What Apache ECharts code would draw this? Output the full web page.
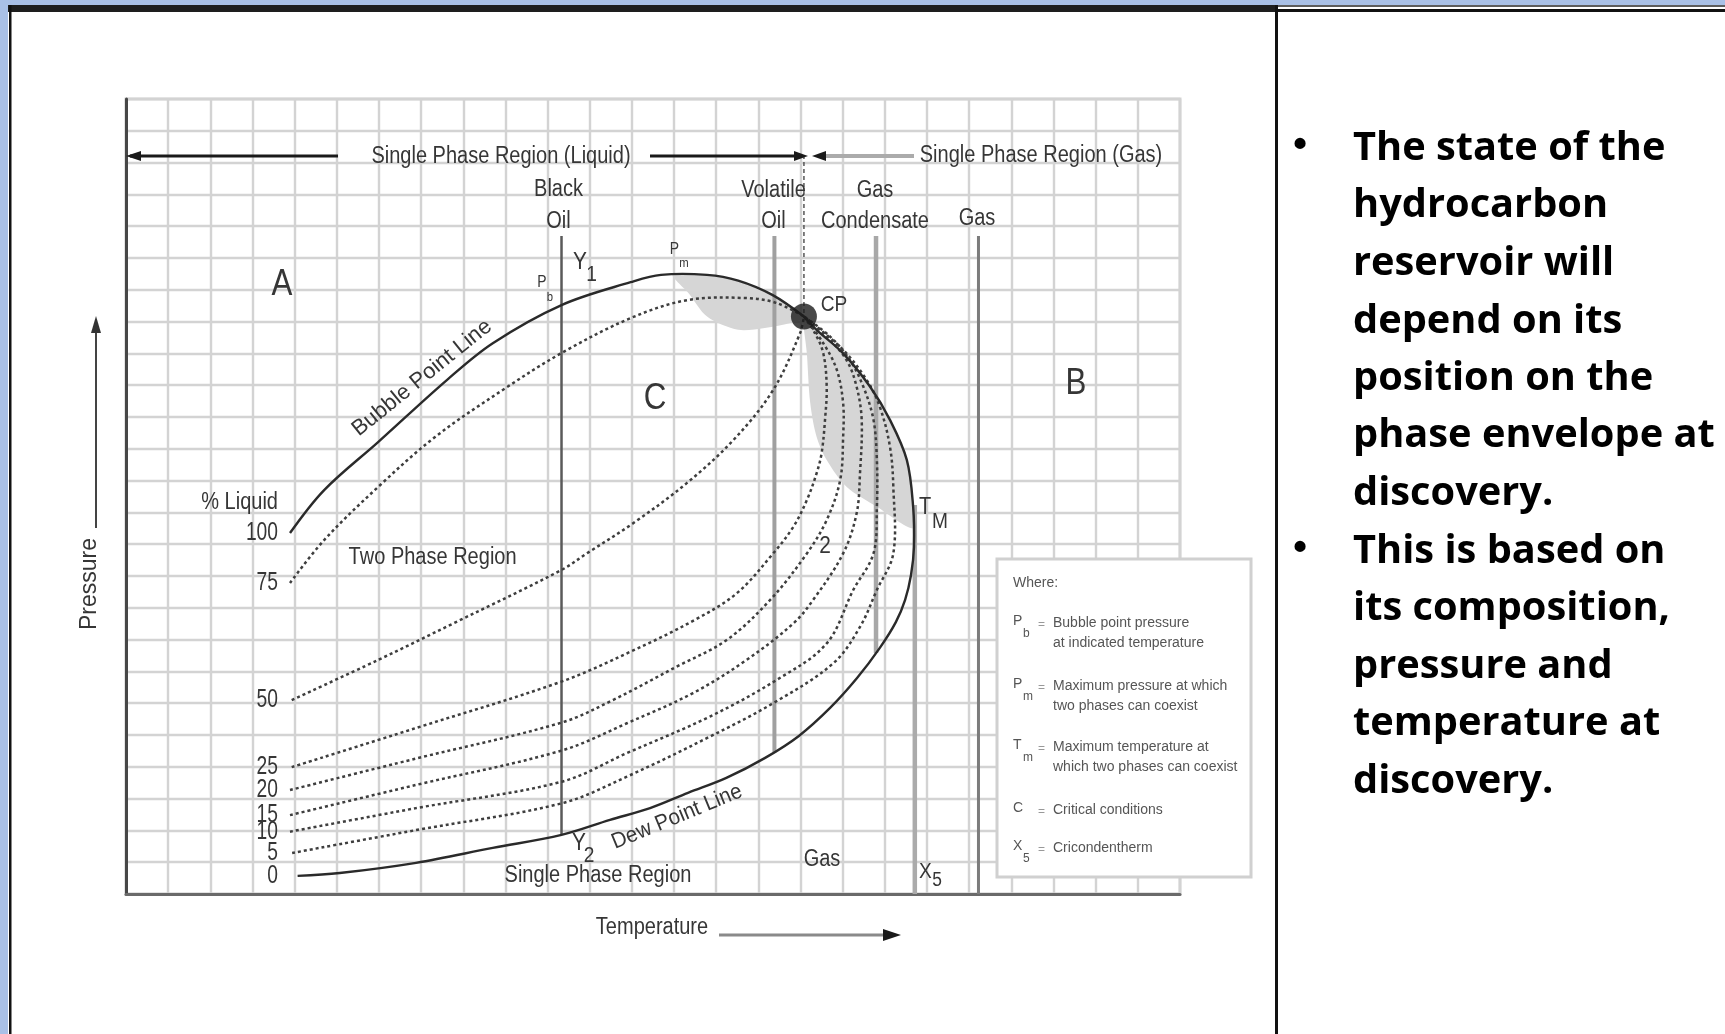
<!DOCTYPE html>
<html>
<head>
<meta charset="utf-8">
<title>Phase envelope</title>
<script src="https://cdn.jsdelivr.net/npm/echarts@6/dist/echarts.min.js"></script>
<style>
  html, body { margin: 0; padding: 0; background: #fff; }
  #main { width: 1725px; height: 1034px; }
</style>
</head>
<body>
<div id="main"></div>
<script>
// grid is 25 x 25 squares, 10 units each (temperature across, pressure up)
const bubbleT = [38.9, 47.0, 59.8, 76.1, 87.0, 103.3, 119.7, 126.9, 137.8, 145.2, 153.3, 160.8];
const bubbleP = [113.5, 127.0, 142.1, 161.6, 173.2, 185.2, 192.4, 194.7, 194.7, 192.9, 188.4, 181.6];

const dewT = [160.8, 163.8, 170.1, 176.5, 181.2, 185.2, 186.7, 186.9, 186.2, 184.8, 182.6, 178.8, 173.4, 167.0, 159.6, 151.6, 142.4, 133.3, 124.3, 114.8, 103.3, 87.0, 68.8, 50.7, 40.7];
const dewP = [181.6, 177.4, 170.0, 159.5, 149.1, 136.5, 121.8, 109.1, 100.3, 92.5, 85.5, 77.4, 67.9, 58.5, 49.7, 42.8, 36.5, 31.8, 27.0, 23.3, 18.6, 14.5, 9.8, 6.6, 5.7];

// % liquid quality lines
const q75T = [38.9, 47.0, 59.8, 73.3, 89.7, 103.3, 119.7, 133.3, 147.0, 154.2, 160.8];
const q75P = [97.8, 111.3, 128.0, 143.7, 158.8, 170.1, 181.1, 186.8, 187.4, 185.9, 181.6];

const q50T = [39.3, 59.8, 77.8, 103.3, 109.3, 120.3, 133.0, 144.1, 153.5, 159.9, 160.8];
const q50P = [61.0, 73.6, 85.2, 101.9, 107.1, 116.6, 129.2, 142.8, 158.5, 176.4, 181.6];

const q25T = [39.3, 68.8, 103.3, 119.5, 134.5, 144.9, 153.5, 158.3, 161.5, 163.8, 165.0, 165.8, 166.2, 165.4, 163.4, 160.8];
const q25P = [39.9, 52.2, 66.8, 76.1, 85.9, 94.6, 107.1, 115.5, 123.9, 132.3, 138.7, 149.1, 159.5, 170.0, 176.4, 181.6];

const q20T = [38.9, 68.8, 103.3, 115.5, 130.6, 142.5, 152.8, 161.5, 166.2, 169.4, 170.1, 170.1, 168.6, 165.4, 160.8];
const q20P = [32.7, 42.6, 53.9, 61.0, 71.5, 79.9, 92.5, 107.1, 117.6, 130.2, 143.8, 154.3, 164.8, 173.2, 181.6];

const q15T = [38.9, 68.8, 103.3, 118.8, 134.5, 147.2, 158.3, 163.0, 170.1, 173.3, 174.1, 174.5, 173.3, 170.9, 166.2, 160.8];
const q15P = [24.8, 34.3, 45.1, 53.7, 63.2, 73.6, 85.1, 92.5, 107.1, 119.7, 132.3, 149.1, 159.5, 167.9, 175.3, 181.6];

const q10T = [38.9, 68.8, 103.3, 118.8, 138.5, 154.3, 166.2, 172.5, 177.3, 178.1, 178.1, 177.3, 174.9, 171.7, 167.0, 160.8];
const q10P = [19.6, 27.0, 35.3, 44.3, 55.8, 67.3, 78.8, 95.6, 107.1, 121.8, 136.5, 149.1, 159.5, 167.9, 175.3, 181.6];

const q5T = [39.4, 68.8, 103.3, 118.8, 138.5, 153.5, 167.8, 174.1, 178.1, 182.0, 182.0, 181.2, 178.8, 175.7, 170.1, 160.8];
const q5P = [12.9, 20.1, 28.5, 36.9, 49.5, 60.0, 72.6, 84.0, 95.6, 107.1, 128.1, 140.7, 153.2, 161.6, 171.1, 181.6];

const liquidTicks = ['100', '75', '50', '25', '20', '15', '10', '5', '0'];

// shaded lobes near Pm and along the dew line below CP
const lobeTopT = [129.7, 137.8, 145.2, 153.3, 160.8, 157.9, 151.5, 145.2, 137.9, 133.4];
const lobeTopP = [194.8, 194.7, 192.9, 188.4, 181.6, 179.6, 178.0, 177.4, 181.5, 189.0];
const lobeDewT = [160.8, 161.5, 162.3, 163.8, 166.2, 170.9, 178.1, 186.7, 186.7, 185.2, 181.2, 176.5, 170.1, 163.8];
const lobeDewP = [181.6, 170.0, 154.4, 143.8, 136.5, 128.1, 121.8, 115.0, 121.8, 136.5, 149.1, 159.5, 170.0, 177.4];

// reservoir type verticals: black oil, volatile oil, gas condensate, gas, cricondentherm
const wellT = [103.3, 153.8, 177.9, 202.2, 187.1];
const wellTop = [206.9, 206.9, 206.9, 206.9, 122.3];
const wellBottom = [18.6, 44.6, 75.8, 0, 0];

const cpT = 160.8, cpP = 181.6, cpLineTop = 232.4;

const legendRows = [
  ['P', 'b', 'Bubble point pressure', 'at indicated temperature'],
  ['P', 'm', 'Maximum pressure at which', 'two phases can coexist'],
  ['T', 'm', 'Maximum temperature at', 'which two phases can coexist'],
  ['C', '', 'Critical conditions', ''],
  ['X', '5', 'Cricondentherm', '']
];

const bullets = [
  ['The state of the', 'hydrocarbon', 'reservoir will', 'depend on its', 'position on the', 'phase envelope at', 'discovery.'],
  ['This is based on', 'its composition,', 'pressure and', 'temperature at', 'discovery.']
];

const solid = { color: '#2a2a2a', width: 2.4, dash: null };
const dotted = { color: '#3e3e3e', width: 2.5, dash: [3, 3] };

const series = [];

// smooth curve through the points, drawn on the cartesian scales
function curve(ts, ps, st, z) {
  return {
    type: 'custom', data: [[ts[0], ps[0]]], z: z, silent: true, animation: false,
    renderItem: function (params, api) {
      return {
        type: 'polyline',
        shape: { points: ts.map((t, i) => api.coord([t, ps[i]])), smooth: 0.35 },
        style: { stroke: st.color, lineWidth: st.width, lineDash: st.dash, fill: null }
      };
    }
  };
}
function lobe(ts, ps) {
  return {
    type: 'custom', data: [[ts[0], ps[0]]], z: 1, silent: true, animation: false,
    renderItem: function (params, api) {
      return {
        type: 'polygon',
        shape: { points: ts.map((t, i) => api.coord([t, ps[i]])), smooth: 0.3 },
        style: { fill: '#d6d6d6' }
      };
    }
  };
}
series.push(lobe(lobeTopT, lobeTopP));
series.push(lobe(lobeDewT, lobeDewP));

const wellStyles = [
  { color: '#5a5a5a', width: 2.5 },
  { color: '#a0a0a0', width: 4 },
  { color: '#a8a8a8', width: 4.5 },
  { color: '#7c7c7c', width: 3 },
  { color: '#ababab', width: 4.5 }
];
wellT.forEach((t, i) => {
  series.push({
    type: 'line', data: [[t, wellTop[i]], [t, wellBottom[i]]], showSymbol: false,
    lineStyle: wellStyles[i], z: 2, silent: true, animation: false
  });
});
series.push({
  type: 'line', data: [[cpT, cpLineTop], [cpT, cpP]], showSymbol: false,
  lineStyle: { color: '#555', width: 1.5, type: [4, 3] }, z: 2, silent: true, animation: false
});

[[q75T, q75P], [q50T, q50P], [q25T, q25P], [q20T, q20P], [q15T, q15P], [q10T, q10P], [q5T, q5P]]
  .forEach(([t, p]) => series.push(curve(t, p, dotted, 3)));
series.push(curve(bubbleT, bubbleP, solid, 4));
series.push(curve(dewT, dewP, solid, 4));
series.push({
  type: 'scatter', data: [[cpT, cpP]], symbolSize: 26,
  itemStyle: { color: '#1c1c1c' }, z: 6, silent: true, animation: false
});

const axisCommon = {
  type: 'value', min: 0, max: 250, interval: 10,
  axisLabel: { show: false }, axisTick: { show: false },
  splitLine: { show: true, lineStyle: { color: '#d3d3d3', width: 2.4 } }
};

const chart = echarts.init(document.getElementById('main'));
chart.setOption({
  backgroundColor: '#fff',
  animation: false,
  grid: { left: 126, top: 99, width: 1054, height: 795, show: true, borderColor: '#d3d3d3', borderWidth: 3 },
  xAxis: Object.assign({}, axisCommon, { axisLine: { show: true, lineStyle: { color: '#6a6a6a', width: 3 } } }),
  yAxis: Object.assign({}, axisCommon, { axisLine: { show: true, lineStyle: { color: '#474747', width: 3 } } }),
  series: series
});

function txt(s, x, y, o) {
  o = o || {};
  const align = o.align || 'center';
  return {
    type: 'text', x: x, y: y, z: 60,
    scaleX: o.sx == null ? 0.87 : o.sx, rotation: o.rot || 0,
    style: {
      text: s, fontSize: o.size || 23, fontFamily: o.family || 'Liberation Sans',
      fontWeight: o.weight || 'normal', fill: o.color || '#363636',
      align: align, textAlign: align, verticalAlign: 'middle', textVerticalAlign: 'middle'
    }
  };
}
function rect(x, y, w, h, fill, z) {
  return { type: 'rect', shape: { x: x, y: y, width: w, height: h }, style: { fill: fill }, z: z || 70 };
}
function seg(x1, y1, x2, y2, stroke, w) {
  return { type: 'line', shape: { x1: x1, y1: y1, x2: x2, y2: y2 }, style: { stroke: stroke, lineWidth: w }, z: 60 };
}
function tri(pts, fill) {
  return { type: 'polygon', shape: { points: pts }, style: { fill: fill }, z: 60 };
}

const g = [];
// slide frame
g.push(rect(0, 0, 1725, 5, '#a9c0e6'));
g.push(rect(0, 0, 8, 1034, '#a9c0e6'));
g.push(rect(8, 5, 1268, 7, '#1e1e1e'));
g.push(rect(1276, 5, 449, 2, '#5c5c5c'));
g.push(rect(1276, 9, 449, 3, '#111'));
g.push(rect(9, 5, 2.5, 1029, '#111'));
g.push(rect(1275, 5, 3, 1029, '#111'));

// region arrows along the top
g.push(seg(130, 156, 338, 156, '#1a1a1a', 3));
g.push(tri([[126, 156], [141, 151], [141, 161]], '#1a1a1a'));
g.push(seg(650, 156, 796, 156, '#1a1a1a', 3));
g.push(tri([[808, 156], [794, 151], [794, 161]], '#1a1a1a'));
g.push(tri([[812, 156], [826, 151], [826, 161]], '#1a1a1a'));
g.push(seg(826, 156, 914, 156, '#ababab', 4));

// axis arrows and titles
g.push(seg(719, 935, 888, 935, '#8a8a8a', 3));
g.push(tri([[901, 935], [883, 929], [883, 941]], '#1a1a1a'));
g.push(seg(96, 528, 96, 330, '#444', 2));
g.push(tri([[96, 316], [91, 333], [101, 333]], '#333'));
g.push(txt('Temperature', 652, 928));
g.push(txt('Pressure', 90, 584, { rot: Math.PI / 2, sx: 1.0 }));

// chart annotations
g.push(txt('Single Phase Region (Liquid)', 501, 157));
g.push(txt('Single Phase Region (Gas)', 1041, 156));
g.push(txt('Black', 558.5, 190), txt('Oil', 558.5, 222));
g.push(txt('Volatile', 773.5, 191), txt('Oil', 773.5, 222));
g.push(txt('Gas', 875, 191), txt('Condensate', 875, 222));
g.push(txt('Gas', 977, 219));
g.push(txt('A', 282, 285, { size: 36 }), txt('B', 1076, 384, { size: 36 }), txt('C', 655, 399, { size: 36 }));
g.push(txt('P', 542, 283, { size: 16 }), txt('b', 550, 297, { size: 13 }));
g.push(txt('P', 674.5, 250, { size: 16 }), txt('m', 684, 263, { size: 13 }));
g.push(txt('Y', 580, 262, { size: 24 }), txt('1', 591.5, 275, { size: 22 }));
g.push(txt('CP', 834, 305, { size: 22 }));
g.push(txt('T', 925, 508, { size: 23 }), txt('M', 940, 522, { size: 22 }));
g.push(txt('2', 825, 546, { size: 24 }));
g.push(txt('Y', 579, 843, { size: 24 }), txt('2', 589, 856, { size: 22 }));
g.push(txt('Single Phase Region', 598, 876));
g.push(txt('Gas', 822, 860));
g.push(txt('X', 925.5, 872, { size: 22 }), txt('5', 937, 880, { size: 20 }));
g.push(txt('% Liquid', 278, 503, { align: 'right' }));
g.push(txt('Two Phase Region', 432.6, 558));
g.push(txt('Bubble Point Line', 422, 378, { size: 22, sx: 1.0, rot: 0.679 }));
g.push(txt('Dew Point Line', 677, 817, { size: 22, sx: 0.94, rot: 0.391 }));

// % liquid labels sit at the start of each quality line
const starts = [[bubbleT[0], bubbleP[0]], [q75T[0], q75P[0]], [q50T[0], q50P[0]], [q25T[0], q25P[0]],
  [q20T[0], q20P[0]], [q15T[0], q15P[0]], [q10T[0], q10P[0]], [q5T[0], q5P[0]],
  [dewT[dewT.length - 1], dewP[dewP.length - 1]]];
liquidTicks.forEach((s, i) => {
  const px = chart.convertToPixel({ gridIndex: 0 }, starts[i]);
  g.push(txt(s, 278, px[1], { align: 'right', size: 26, sx: 0.74 }));
});

// legend box
g.push({ type: 'rect', shape: { x: 997, y: 559, width: 254, height: 318 },
  style: { fill: '#fff', stroke: '#d0d0d0', lineWidth: 3 }, z: 50 });
const lg = { size: 14, sx: 1.0, color: '#555', align: 'left' };
g.push(txt('Where:', 1013, 583, lg));
const rowY = [623, 686, 747, 810, 848];
legendRows.forEach((r, i) => {
  const y = rowY[i];
  g.push(txt(r[0], 1013, y - 2, lg));
  if (r[1]) g.push(txt(r[1], 1023, y + 11, Object.assign({}, lg, { size: 12 })));
  g.push(txt('=', 1038, y + 2, Object.assign({}, lg, { size: 12, color: '#999' })));
  g.push(txt(r[2], 1053, y, lg));
  if (r[3]) g.push(txt(r[3], 1053, y + 20, lg));
});

// bullet text on the right
const lineY = [[149, 206, 264, 322, 379, 436, 494], [552, 609, 667, 724, 782]];
const bt = { size: 39, sx: 1.02, color: '#000', align: 'left', family: 'Open Sans', weight: 'bold' };
bullets.forEach((lines, b) => {
  g.push(txt('\u2022', 1300, lineY[b][0] - 4, Object.assign({}, bt, { align: 'center', sx: 1.0, family: 'Liberation Sans' })));
  lines.forEach((s, i) => g.push(txt(s, 1353, lineY[b][i], bt)));
});

chart.setOption({ graphic: { elements: g } });
</script>
</body>
</html>
